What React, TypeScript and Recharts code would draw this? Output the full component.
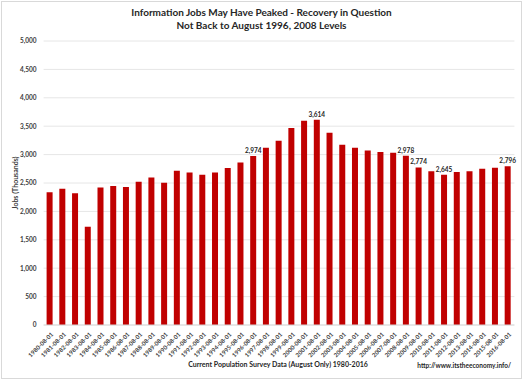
import React from 'react';
import { BarChart, Bar, XAxis, YAxis, CartesianGrid, LabelList, Label } from 'recharts';

const years = [1980, 1981, 1982, 1983, 1984, 1985, 1986, 1987, 1988, 1989, 1990, 1991, 1992, 1993, 1994, 1995, 1996, 1997, 1998, 1999, 2000, 2001, 2002, 2003, 2004, 2005, 2006, 2007, 2008, 2009, 2010, 2011, 2012, 2013, 2014, 2015, 2016];
const categories = years.map((y) => `${y}-08-01`);
const jobs = [2335, 2400, 2318, 1730, 2420, 2445, 2428, 2520, 2598, 2504, 2715, 2686, 2645, 2686, 2762, 2862, 2974, 3120, 3244, 3467, 3596, 3614, 3385, 3174, 3120, 3073, 3044, 3032, 2978, 2774, 2709, 2645, 2692, 2709, 2750, 2768, 2796];
const labeledYears = [1996, 2001, 2008, 2009, 2011, 2016];
const yTicks = [0, 500, 1000, 1500, 2000, 2500, 3000, 3500, 4000, 4500, 5000];

const data = categories.map((c, i) => ({
  date: c,
  jobs: jobs[i],
  label: labeledYears.includes(years[i]) ? jobs[i] : null,
}));

const FONT = 'Lato, "Open Sans", sans-serif';
const fmt = (v: number) => v.toLocaleString('en-US');

const XTick = (props: any) => {
  const { x, y, payload } = props;
  const tx = x + 2;
  const ty = y;
  return (
    <text x={tx} y={ty} transform={`rotate(-45 ${tx} ${ty})`} textAnchor="end" dominantBaseline="central" fontSize={6} fontWeight={700} fill="#404040" fontFamily={FONT}>
      {payload.value}
    </text>
  );
};

const BarLabel = (props: any) => {
  const { x, y, width, value } = props;
  if (value === null || value === undefined) return null;
  return (
    <text x={x + width / 2} y={y - 3} textAnchor="middle" fontSize={6.5} fontWeight={700} fill="#262626" fontFamily={FONT}>
      {fmt(value)}
    </text>
  );
};

export default function App() {
  return (
    <div style={{ position: 'absolute', left: 0, top: 0, width: 523, height: 380, background: '#fff', fontFamily: FONT }}>
      <div style={{ position: 'absolute', left: 1, top: 1, width: 519, height: 376, border: '1px solid #d9d9d9' }} />
      <div style={{ position: 'absolute', left: 0, top: 6, width: 523, textAlign: 'center', fontSize: 10, fontWeight: 700, lineHeight: '13px', color: '#262626' }}>
        <div>Information Jobs May Have Peaked - Recovery in Question</div>
        <div>Not Back to August 1996, 2008 Levels</div>
      </div>
      <BarChart width={523} height={380} data={data} margin={{ top: 41, right: 8.6, bottom: 0, left: 0 }} style={{ position: 'absolute', left: 0, top: 0 }}>
        <CartesianGrid vertical={false} stroke="#e6e6e6" />
        <XAxis dataKey="date" height={55} interval={0} tickLine={false} axisLine={{ stroke: '#d9d9d9' }} tick={<XTick />} />
        <YAxis width={43.6} domain={[0, 5000]} ticks={yTicks} axisLine={false} tickLine={false} tickSize={5} tickFormatter={fmt} tick={{ fontSize: 6.5, fontWeight: 700, fill: '#404040', fontFamily: FONT }}>
          <Label
            content={() => (
              <text x={15} y={183} transform="rotate(-90 15 183)" textAnchor="middle" dominantBaseline="central" fontSize={7} fontWeight={700} fill="#404040" fontFamily={FONT}>
                Jobs (Thousands)
              </text>
            )}
          />
        </YAxis>
        <Bar dataKey="jobs" fill="#c00000" barSize={6} isAnimationActive={false}>
          <LabelList dataKey="label" content={<BarLabel />} />
        </Bar>
      </BarChart>
      <div style={{ position: 'absolute', left: 178, width: 200, top: 360, textAlign: 'center', fontSize: 7, lineHeight: '9px', fontWeight: 700, color: '#262626', whiteSpace: 'nowrap' }}>
        Current Population Survey Data (August Only) 1980-2016
      </div>
      <div style={{ position: 'absolute', right: 12, top: 360.5, fontSize: 6.5, lineHeight: '9px', fontWeight: 700, color: '#262626', whiteSpace: 'nowrap' }}>
        http://www.itstheeconomy.info/
      </div>
    </div>
  );
}
